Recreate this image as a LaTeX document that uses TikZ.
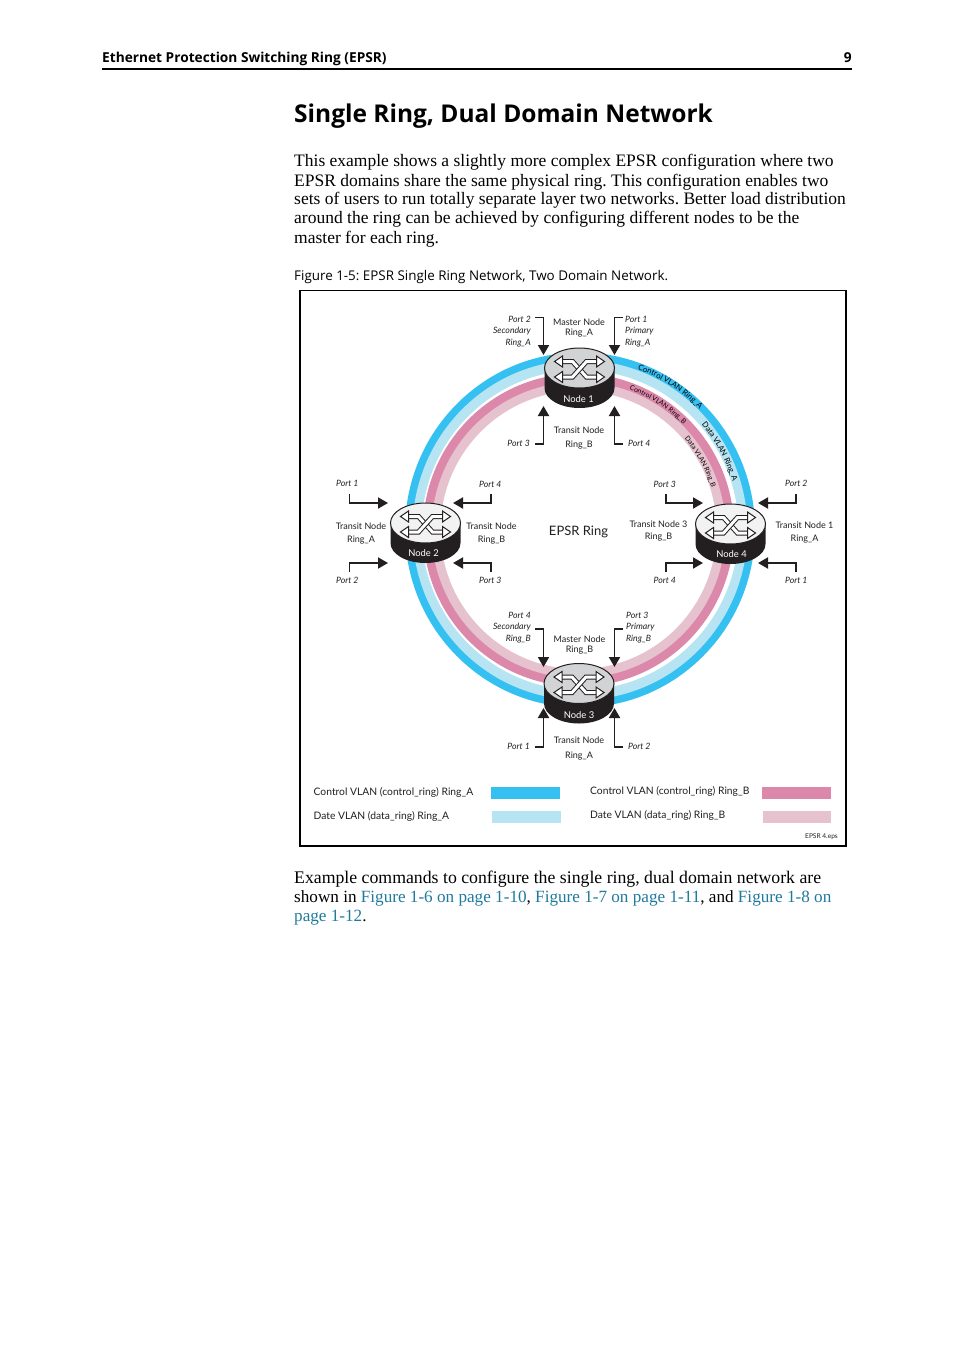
\documentclass[tikz,border=0pt]{standalone}
\usepackage{fontspec}
\setmainfont{Liberation Serif}
\newfontfamily\diagfont{Lato}
\newfontfamily\headfont{Open Sans}
\usetikzlibrary{arrows.meta,decorations.text}
\definecolor{cblue}{HTML}{35C0F2}
\definecolor{clblue}{HTML}{B7E4F2}
\definecolor{cpink}{HTML}{DC88AB}
\definecolor{clpink}{HTML}{E6C2CF}
\definecolor{cgray}{HTML}{D1D3D4}
\definecolor{cwhitetop}{HTML}{F2F2F2}
\definecolor{cdark}{HTML}{231F20}
\definecolor{clink}{HTML}{1F7A9C}
\newcommand{\lnk}[1]{\textcolor{clink}{#1}}
\tikzset{
  x=1pt,y=-1pt,
  bodyline/.style={anchor=base west,inner sep=0pt,font=\fontsize{17.5}{19}\selectfont},
  lab/.style={inner sep=0pt,align=center,text=cdark,font=\diagfont\fontsize{9}{11}\selectfont},
  portl/.style={inner sep=0pt,anchor=west,text=cdark,font=\diagfont\itshape\fontsize{8.7}{10}\selectfont},
  portr/.style={inner sep=0pt,anchor=east,text=cdark,font=\diagfont\itshape\fontsize{8.7}{10}\selectfont},
  leg/.style={inner sep=0pt,anchor=west,text=cdark,font=\diagfont\fontsize{10.3}{12}\selectfont},
  nodelab/.style={inner sep=0pt,text=white,font=\diagfont\fontsize{9.4}{11}\selectfont},
  conn/.style={draw=cdark,line width=1.9pt,-{Triangle[length=10pt,width=11pt]}},
  pics/router/.style={code={
    \fill[cdark] (-35,0) -- (-35,20) arc[start angle=180,end angle=0,x radius=35,y radius=20] -- (35,0) -- cycle;
    \fill[#1,draw=cdark,line width=1pt] (0,0) ellipse[x radius=35,y radius=20];
    \foreach \sgnA/\sgnB in {-6.5/9,9/-6.5}{
      \draw[cdark,line width=5pt] (-17,\sgnA) -- (-7,\sgnA) -- (7,\sgnB) -- (17,\sgnB);
      \draw[white,line width=3pt] (-18,\sgnA) -- (-7,\sgnA) -- (7,\sgnB) -- (18,\sgnB);
      \fill[white,draw=cdark,line width=1pt] (-25,\sgnA) -- (-17,\sgnA-5.5) -- (-17,\sgnA+5.5) -- cycle;
      \fill[white,draw=cdark,line width=1pt] (25,\sgnB) -- (17,\sgnB-5.5) -- (17,\sgnB+5.5) -- cycle;
    }
  }},
}
\begin{document}
\frenchspacing
\begin{tikzpicture}
\useasboundingbox (0,0) rectangle (954,1351);
\fill[white] (0,0) rectangle (954,1351);
% page header
\node[anchor=base west,inner sep=0pt,font=\headfont\bfseries\fontsize{13.7}{15}\selectfont] (hdr) at (102,62.5) {Ethernet Protection Switching Ring (EPSR)};
\node[anchor=base east,inner sep=0pt,font=\headfont\bfseries\fontsize{13.7}{15}\selectfont] (pg) at (852,62.5) {9};
\fill[black] (102,68) rectangle (852,70);
\node[anchor=base west,inner sep=0pt,font=\headfont\bfseries\fontsize{24.5}{28}\selectfont] (title) at (294,122.5) {Single Ring, Dual Domain Network};
\node[bodyline] (b1) at (294,167) {This example shows a slightly more complex EPSR configuration where two};
\node[bodyline] (b2) at (294,186) {EPSR domains share the same physical ring. This configuration enables two};
\node[bodyline] (b3) at (294,204.5) {sets of users to run totally separate layer two networks. Better load distribution};
\node[bodyline] (b4) at (294,223.5) {around the ring can be achieved by configuring different nodes to be the};
\node[bodyline] (b5) at (294,243) {master for each ring.};
\node[anchor=base west,inner sep=0pt,font=\headfont\fontsize{13.4}{16}\selectfont] (cap) at (294,280) {Figure 1-5: EPSR Single Ring Network, Two Domain Network.};
% frame
\draw[black,line width=1.5pt] (300,290.5) rectangle (846,846);
% rings
\fill[cblue] (580,530) ellipse[x radius=175,y radius=177.5];
\fill[clblue] (580,530) ellipse[x radius=167.5,y radius=170];
\fill[white] (580,530) ellipse[x radius=158.5,y radius=160];
\fill[cpink] (578.5,530) ellipse[x radius=155.5,y radius=156.5];
\fill[clpink] (578.5,530) ellipse[x radius=147,y radius=148];
\fill[white] (578.5,530) ellipse[x radius=138,y radius=139];
\begin{scope}[shift={(580,530)}]
  \path[decorate,decoration={text along path,text align=center,text={|\diagfont\fontsize{7.8}{9}\selectfont|Control VLAN Ring{\_}A}}]
    (-72:169 and 171) arc[start angle=-72,end angle=-43,x radius=169,y radius=171];
  \path[decorate,decoration={text along path,text align=center,text={|\diagfont\fontsize{7.8}{9}\selectfont|Data VLAN Ring{\_}A}}]
    (-43:160 and 162) arc[start angle=-43,end angle=-15,x radius=160,y radius=162];
\end{scope}
\begin{scope}[shift={(578.5,530)}]
  \path[decorate,decoration={text along path,text align=center,text={|\diagfont\fontsize{6.8}{8}\selectfont|Control VLAN Ring{\_}B}}]
    (-72:148.5 and 149.5) arc[start angle=-72,end angle=-43,x radius=148.5,y radius=149.5];
  \path[decorate,decoration={text along path,text align=center,text={|\diagfont\fontsize{6.8}{8}\selectfont|Data VLAN Ring{\_}B}}]
    (-43:139.5 and 140.5) arc[start angle=-43,end angle=-15,x radius=139.5,y radius=140.5];
\end{scope}
% routers
\pic (r1) at (579.5,368) {router=cgray};
\pic (r2) at (425.5,523) {router=cwhitetop};
\pic (r3) at (579,683.5) {router=cgray};
\pic (r4) at (730.5,524) {router=cwhitetop};
\node[nodelab] (n1) at (578.5,399) {Node 1};
\node[nodelab] (n2) at (423.5,553.5) {Node 2};
\node[nodelab] (n3) at (579,715) {Node 3};
\node[nodelab] (n4) at (731.5,554.5) {Node 4};
% connector end points
\coordinate (a1s) at (535,317.5); \coordinate (a1t) at (543.5,355);
\coordinate (a2s) at (623,317.5); \coordinate (a2t) at (614.5,355);
\coordinate (a3s) at (535,444); \coordinate (a3t) at (543.5,406);
\coordinate (a4s) at (623,444); \coordinate (a4t) at (614.5,406);
\coordinate (c1s) at (535,629); \coordinate (c1t) at (543.5,667);
\coordinate (c2s) at (623,629); \coordinate (c2t) at (614.5,667);
\coordinate (c3s) at (535,747); \coordinate (c3t) at (543.5,708);
\coordinate (c4s) at (623,747); \coordinate (c4t) at (614.5,708);
\coordinate (b1s) at (349.5,494); \coordinate (b1t) at (388,503);
\coordinate (b2s) at (349.5,572); \coordinate (b2t) at (388,563);
\coordinate (b3s) at (491,494); \coordinate (b3t) at (453,503);
\coordinate (b4s) at (491,572); \coordinate (b4t) at (453,563);
\coordinate (d1s) at (666,494); \coordinate (d1t) at (703,503);
\coordinate (d2s) at (666,572); \coordinate (d2t) at (703,563);
\coordinate (d3s) at (796,494); \coordinate (d3t) at (758,503);
\coordinate (d4s) at (796,572); \coordinate (d4t) at (758,563);
\foreach \n in {a1,a2,a3,a4,c1,c2,c3,c4}{\draw[conn] (\n s) -| (\n t);}
\foreach \n in {b1,b2,b3,b4,d1,d2,d3,d4}{\draw[conn] (\n s) |- (\n t);}
% node 1 labels
\node[lab] (t1a) at (579,322.5) {Master Node};
\node[lab] (t1b) at (579,333.5) {Ring\_A};
\node[portr] (p1a) at (531,319) {Port 2};
\node[portr] (p1b) at (531,331.5) {Secondary};
\node[portr] (p1c) at (531,343.5) {Ring\_A};
\node[portl] (p1d) at (625,319) {Port 1};
\node[portl] (p1e) at (625,331.5) {Primary};
\node[portl] (p1f) at (625,343.5) {Ring\_A};
\node[lab] (t1c) at (579,430) {Transit Node};
\node[lab] (t1d) at (579,445) {Ring\_B};
\node[portr] (p1g) at (530,443) {Port 3};
\node[portl] (p1h) at (628,443) {Port 4};
% node 2 labels
\node[portl] (p2a) at (336,483) {Port 1};
\node[lab] (t2a) at (361,526) {Transit Node};
\node[lab] (t2b) at (361,540.5) {Ring\_A};
\node[portl] (p2b) at (336,580) {Port 2};
\node[portl] (p2c) at (479,484) {Port 4};
\node[lab] (t2c) at (491.5,526) {Transit Node};
\node[lab] (t2d) at (491.5,540.5) {Ring\_B};
\node[portl] (p2d) at (479,580) {Port 3};
% node 4 labels
\node[portl] (p4a) at (653.5,484) {Port 3};
\node[lab] (t4a) at (658.5,524) {Transit Node 3};
\node[lab] (t4b) at (658.5,537.5) {Ring\_B};
\node[portl] (p4b) at (653.5,580) {Port 4};
\node[portl] (p4c) at (785,483) {Port 2};
\node[lab] (t4c) at (804.5,525) {Transit Node 1};
\node[lab] (t4d) at (804.5,539.5) {Ring\_A};
\node[portl] (p4d) at (785,580) {Port 1};
% centre
\node[lab,font=\diagfont\fontsize{13}{15}\selectfont] (epsr) at (578.5,531.5) {EPSR Ring};
% node 3 labels
\node[portr] (p3a) at (531,615) {Port 4};
\node[portr] (p3b) at (531,627.5) {Secondary};
\node[portr] (p3c) at (531,639.5) {Ring\_B};
\node[portl] (p3d) at (626,615) {Port 3};
\node[portl] (p3e) at (626,627.5) {Primary};
\node[portl] (p3f) at (626,639.5) {Ring\_B};
\node[lab] (t3a) at (579.5,639) {Master Node};
\node[lab] (t3b) at (579.5,650.5) {Ring\_B};
\node[lab] (t3c) at (579,740) {Transit Node};
\node[lab] (t3d) at (579,756.5) {Ring\_A};
\node[portr] (p3g) at (530,746) {Port 1};
\node[portl] (p3h) at (628,746) {Port 2};
% legend
\node[leg] (l1) at (313.5,792.5) {Control VLAN (control\_ring) Ring\_A};
\node[leg] (l2) at (313.5,816.5) {Date VLAN (data\_ring) Ring\_A};
\node[leg] (l3) at (590,791.5) {Control VLAN (control\_ring) Ring\_B};
\node[leg] (l4) at (590,815.5) {Date VLAN (data\_ring) Ring\_B};
\fill[cblue] (491,787) rectangle (560,799);
\fill[clblue] (492,811) rectangle (561,823);
\fill[cpink] (762,787) rectangle (831,799);
\fill[clpink] (763,811) rectangle (831,823);
\node[inner sep=0pt,anchor=east,text=cdark,font=\diagfont\fontsize{6.6}{8}\selectfont] (eps) at (838,837) {EPSR 4.eps};
% closing text
\node[bodyline,font=\fontsize{17.75}{19}\selectfont] (e1) at (294,883) {Example commands to configure the single ring, dual domain network are};
\node[bodyline,font=\fontsize{17.15}{19}\selectfont] (e2) at (294,902) {shown in \lnk{Figure 1-6 on page 1-10}, \lnk{Figure 1-7 on page 1-11}, and \lnk{Figure 1-8 on}};
\node[bodyline,font=\fontsize{17.15}{19}\selectfont] (e3) at (294,921) {\lnk{page 1-12}.};
\end{tikzpicture}
\end{document}
